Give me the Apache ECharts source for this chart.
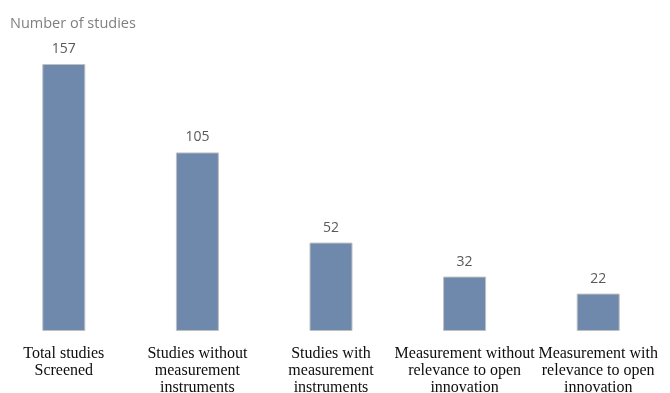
<!DOCTYPE html>
<html><head><meta charset="utf-8">
<script src="https://cdn.jsdelivr.net/npm/echarts@6/dist/echarts.min.js"></script>
<style>html,body{margin:0;padding:0;background:#fff}#c{width:670px;height:393px}</style>
</head><body><div id="c"></div>
<script>
const categories = [
  "Total studies\nScreened",
  "Studies without\nmeasurement\ninstruments",
  "Studies with\nmeasurement\ninstruments",
  "Measurement without\nrelevance to open\ninnovation",
  "Measurement with\nrelevance to open\ninnovation"
];
const studies = [157, 105, 52, 32, 22];

const chart = echarts.init(document.getElementById('c'), null, {renderer: 'canvas'});
chart.setOption({
  animation: false,
  title: {
    text: 'Number of studies', left: 5, top: 11,
    textStyle: {fontFamily: 'Open Sans', fontSize: 14.5, fontWeight: 'normal', color: '#7f7f7f'}
  },
  grid: {left: -3, width: 668, top: 64, bottom: 62, containLabel: false, outerBoundsMode: 'none'},
  xAxis: {
    type: 'category', data: categories,
    axisLine: {show: false}, axisTick: {show: false},
    axisLabel: {
      interval: 0, margin: 14,
      fontFamily: 'Liberation Serif', fontSize: 16, lineHeight: 17, color: '#0d0d0d'
    }
  },
  yAxis: {type: 'value', min: 0, max: 157, show: false, splitLine: {show: false}},
  series: [{
    type: 'bar', data: studies, barWidth: 43,
    itemStyle: {color: '#6f89ad', borderColor: '#c0c0c0', borderWidth: 1},
    label: {
      show: true, position: 'top', distance: 8,
      fontFamily: 'Open Sans', fontSize: 14, color: '#595959'
    }
  }]
});
</script></body></html>
